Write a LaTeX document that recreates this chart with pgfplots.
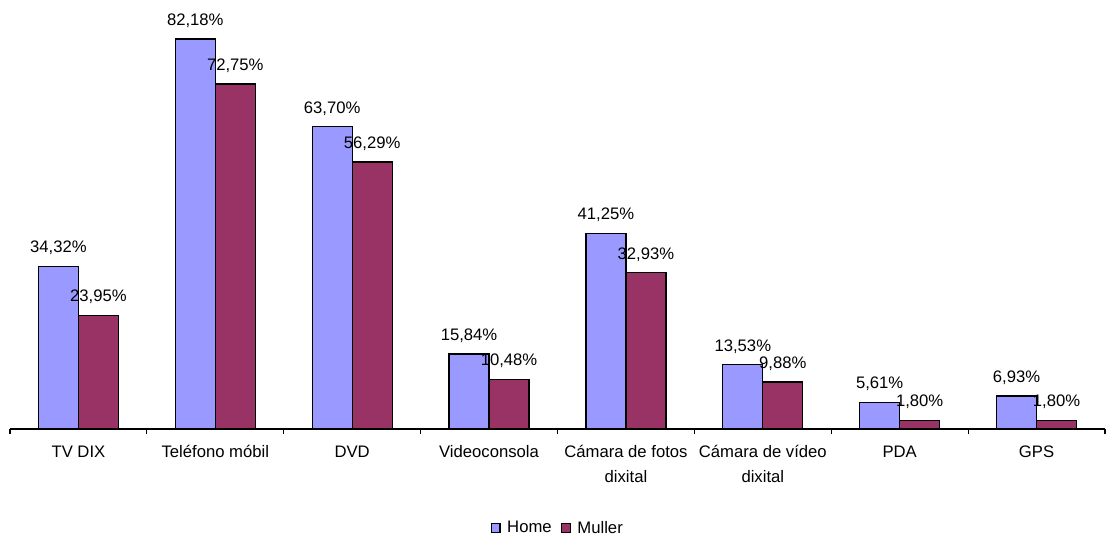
\documentclass[border=0pt]{standalone}
\usepackage{pgfplots}
\pgfplotsset{compat=1.18}
\usepackage{fontspec}
\setmainfont{Liberation Sans}
\definecolor{home}{HTML}{9999FF}
\definecolor{muller}{HTML}{993366}
\begin{document}
\begin{tikzpicture}[x=1pt,y=1pt]
\useasboundingbox (-7.5,-82.5) rectangle (822,321.75);
\begin{axis}[
  at={(0,0)}, anchor=south west,
  scale only axis,
  width=821.25pt, height=320.25pt,
  ymin=0, ymax=90,
  xmin=-0.5, xmax=7.5,
  axis x line=bottom, axis y line=none,
  axis line style={black, line width=0.9pt, -},
  ybar=0pt, bar width=30pt,
  xtick={0,...,7},
  xticklabels={TV DIX, Teléfono móbil, DVD, Videoconsola, {Cámara de fotos\\dixital}, {Cámara de vídeo\\dixital}, PDA, GPS},
  x tick label style={font=\fontsize{12.5}{18.5}\selectfont, align=center, anchor=north, yshift=-9pt},
  major tick length=0pt,
  minor xtick={-0.5,0.5,...,7.5},
  minor tick length=4pt,
  tick align=outside,
  minor tick style={black, line width=0.9pt},
  nodes near coords={\pgfmathprintnumber[fixed, fixed zerofill, precision=2, use comma, assume math mode=true]{\pgfplotspointmeta}\%},
  every node near coord/.append style={font=\fontsize{12.5}{14}\selectfont, inner sep=0pt, yshift=8pt, black},
  legend style={at={(0.5,-0.232)}, anchor=center, draw=none, legend columns=2, font=\fontsize{12.5}{14}\selectfont,
    nodes={inner sep=1pt},
    /tikz/every even column/.append style={column sep=6pt},
    /tikz/every odd column/.append style={column sep=4pt}},
  legend image code/.code={\draw[#1, draw=black, line width=0.9pt] (0pt,-3.2pt) rectangle (6.4pt,3.2pt);},
]
\addplot[fill=home, draw=black, line width=1pt] coordinates {(0,34.32) (1,82.18) (2,63.70) (3,15.84) (4,41.25) (5,13.53) (6,5.61) (7,6.93)};
\addplot[fill=muller, draw=black, line width=1pt] coordinates {(0,23.95) (1,72.75) (2,56.29) (3,10.48) (4,32.93) (5,9.88) (6,1.80) (7,1.80)};
\legend{Home, Muller}
\end{axis}
\end{tikzpicture}
\end{document}
